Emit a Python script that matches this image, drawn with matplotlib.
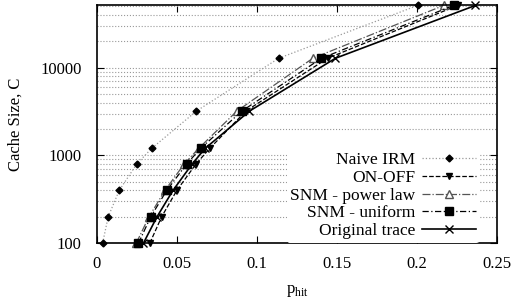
import numpy as np
import matplotlib
matplotlib.use('Agg')
import matplotlib.pyplot as plt

# cache sizes (y) and hit probabilities (x) per model
cache_size = [100, 200, 400, 800, 1200, 3200, 12800, 51200]
naive_irm = [0.0035, 0.007, 0.0139, 0.0249, 0.0341, 0.0621, 0.1136, 0.2004]
on_off = [0.033, 0.0404, 0.0499, 0.0619, 0.0704, 0.093, 0.1441, 0.2255]
snm_power = [0.0245, 0.0325, 0.0425, 0.0545, 0.0635, 0.0874, 0.1349, 0.2167]
snm_uniform = [0.0259, 0.0336, 0.0436, 0.0561, 0.0647, 0.0905, 0.1403, 0.2229]
original = [0.029, 0.0375, 0.0475, 0.0595, 0.0675, 0.0953, 0.1490, 0.2365]

plt.rcParams['font.family'] = ['Liberation Serif', 'DejaVu Serif']
plt.rcParams['font.size'] = 12

fig = plt.figure(figsize=(5.14, 3.01), dpi=100)
ax = fig.add_axes([0.1887, 0.192, 0.7783, 0.790])

ax.plot(naive_irm, cache_size, color='#999999', ls=':', lw=0.9, marker='D',
        ms=3.5, mfc='black', mec='black', label='Naive IRM', clip_on=False)
ax.plot(on_off, cache_size, color='black', ls='--', lw=0.9, marker='v',
        ms=5, mfc='black', mec='black', label='ON-OFF', clip_on=False)
ax.plot(snm_power, cache_size, color='#555555', ls='-.', lw=0.9, marker='^',
        ms=6, mfc='white', mec='#555555', label='SNM - power law', clip_on=False)
ax.plot(snm_uniform, cache_size, color='black', ls=(0, (5, 2, 1, 2)), lw=0.9,
        marker='s', ms=6, mfc='black', mec='black', label='SNM - uniform', clip_on=False)
ax.plot(original, cache_size, color='black', ls='-', lw=1.2, marker='x',
        ms=6, mec='black', label='Original trace', clip_on=False)

ax.set_yscale('log')
ax.set_ylim(100, 51200)
ax.set_xlim(0, 0.25)
ax.set_xticks([0, 0.05, 0.1, 0.15, 0.2, 0.25])
ax.set_xticklabels(['0', '0.05', '0.1', '0.15', '0.2', '0.25'])
ax.set_yticks([100, 1000, 10000])
ax.set_yticklabels(['100', '1000', '10000'])

ax.grid(True, axis='y', which='both', color='#999999', ls=':', lw=0.8)
ax.tick_params(which='both', direction='in', top=True, right=True, length=5)
ax.tick_params(axis='x', pad=9)
ax.tick_params(axis='y', pad=11)
ax.tick_params(which='minor', length=0)
for s in ax.spines.values():
    s.set_linewidth(1.2)

ax.set_xlabel(r'p$_{\mathregular{hit}}$', labelpad=8)
ax.set_ylabel('Cache Size, C', labelpad=12)

leg = ax.legend(loc='lower right', bbox_to_anchor=(0.978, -0.035), frameon=True,
                markerfirst=False, handlelength=3.1, handletextpad=0.4,
                labelspacing=0.1, borderpad=0.2, fontsize=12.5)
leg.get_frame().set_edgecolor('none')
leg.get_frame().set_facecolor('white')
leg.get_frame().set_alpha(1)
leg._legend_box.align = 'right'

fig.savefig('out.png', dpi=100)
